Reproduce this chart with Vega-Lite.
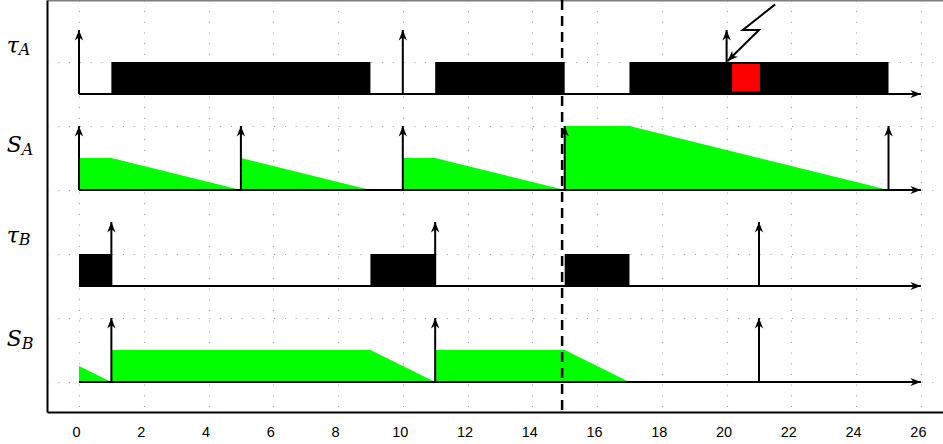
{
  "$schema": "https://vega.github.io/schema/vega-lite/v6.json",
  "width": 896,
  "height": 412,
  "autosize": {"type": "none"},
  "padding": {"left": 47, "top": 0, "right": 0, "bottom": 32},
  "background": "white",
  "config": {"view": {"stroke": null}},
  "datasets": {
    "jobs": [
      {"task": "tauA", "kind": "exec", "start": 1, "end": 9, "lo": 9, "hi": 10},
      {"task": "tauA", "kind": "exec", "start": 11, "end": 15, "lo": 9, "hi": 10},
      {"task": "tauA", "kind": "exec", "start": 17, "end": 25, "lo": 9, "hi": 10},
      {"task": "tauB", "kind": "exec", "start": 0, "end": 1, "lo": 3, "hi": 4},
      {"task": "tauB", "kind": "exec", "start": 9, "end": 11, "lo": 3, "hi": 4},
      {"task": "tauB", "kind": "exec", "start": 15, "end": 17, "lo": 3, "hi": 4},
      {"task": "tauA", "kind": "fault", "start": 20.17, "end": 21.03, "lo": 9.08, "hi": 9.94}
    ],
    "slack": [
      {"seg": "a1", "t": 0, "s": 7, "base": 6},
      {"seg": "a1", "t": 1, "s": 7, "base": 6},
      {"seg": "a1", "t": 5, "s": 6, "base": 6},
      {"seg": "a2", "t": 5, "s": 7, "base": 6},
      {"seg": "a2", "t": 9, "s": 6, "base": 6},
      {"seg": "a3", "t": 10, "s": 7, "base": 6},
      {"seg": "a3", "t": 11, "s": 7, "base": 6},
      {"seg": "a3", "t": 15, "s": 6, "base": 6},
      {"seg": "a4", "t": 15, "s": 8, "base": 6},
      {"seg": "a4", "t": 17, "s": 8, "base": 6},
      {"seg": "a4", "t": 25, "s": 6, "base": 6},
      {"seg": "b1", "t": 0, "s": 0.5, "base": 0},
      {"seg": "b1", "t": 1, "s": 0, "base": 0},
      {"seg": "b2", "t": 1, "s": 1, "base": 0},
      {"seg": "b2", "t": 9, "s": 1, "base": 0},
      {"seg": "b2", "t": 11, "s": 0, "base": 0},
      {"seg": "b3", "t": 11, "s": 1, "base": 0},
      {"seg": "b3", "t": 15, "s": 1, "base": 0},
      {"seg": "b3", "t": 17, "s": 0, "base": 0}
    ],
    "releases": [
      {"row": "tauA", "t": 0, "base": 9, "top": 11},
      {"row": "tauA", "t": 10, "base": 9, "top": 11},
      {"row": "tauA", "t": 20, "base": 9, "top": 11},
      {"row": "SA", "t": 0, "base": 6, "top": 8},
      {"row": "SA", "t": 5, "base": 6, "top": 8},
      {"row": "SA", "t": 10, "base": 6, "top": 8},
      {"row": "SA", "t": 15, "base": 6, "top": 8},
      {"row": "SA", "t": 25, "base": 6, "top": 8},
      {"row": "tauB", "t": 1, "base": 3, "top": 5},
      {"row": "tauB", "t": 11, "base": 3, "top": 5},
      {"row": "tauB", "t": 21, "base": 3, "top": 5},
      {"row": "SB", "t": 1, "base": 0, "top": 2},
      {"row": "SB", "t": 11, "base": 0, "top": 2},
      {"row": "SB", "t": 21, "base": 0, "top": 2}
    ],
    "timelines": [
      {"row": "tauA", "start": 0, "end": 26, "base": 9},
      {"row": "SA", "start": 0, "end": 26, "base": 6},
      {"row": "tauB", "start": 0, "end": 26, "base": 3},
      {"row": "SB", "start": 0, "end": 26, "base": 0}
    ],
    "bolt": [
      {"i": 0, "t": 21.5, "v": 11.8},
      {"i": 1, "t": 20.5, "v": 11.0},
      {"i": 2, "t": 21.0, "v": 11.0},
      {"i": 3, "t": 20.03, "v": 10.03}
    ],
    "labels": [
      {"main": "τ", "sub": "A", "v": 10.27},
      {"main": "S", "sub": "A", "v": 7.2},
      {"main": "τ", "sub": "B", "v": 4.34},
      {"main": "S", "sub": "B", "v": 1.13}
    ]
  },
  "layer": [
    {
      "layer": [
        {
          "data": {"name": "jobs"},
          "mark": {"type": "rect"},
          "encoding": {
            "x": {
              "field": "start", "type": "quantitative", "title": null,
              "scale": {"domain": [-0.988, 26.683], "nice": false, "zero": false},
              "axis": {
                "title": null,
                "values": [0,1,2,3,4,5,6,7,8,9,10,11,12,13,14,15,16,17,18,19,20,21,22,23,24,25,26],
                "labelExpr": "datum.value % 2 == 0 ? datum.label : ''",
                "ticks": false,
                "domainColor": "black", "domainWidth": 2,
                "labelFont": "Liberation Sans", "labelFontSize": 14.5, "labelColor": "black",
                "labelPadding": 13, "labelOffset": -3, "labelOverlap": false, "labelFlush": false,
                "grid": true, "gridColor": "#9a9a9a", "gridDash": [1, 9.67], "gridWidth": 1, "gridOpacity": 1
              }
            },
            "x2": {"field": "end"},
            "y": {
              "field": "lo", "type": "quantitative", "title": null,
              "scale": {"domain": [-0.9375, 11.9375], "nice": false, "zero": false},
              "axis": {
                "title": null,
                "values": [0,1,2,3,4,5,6,7,8,9,10,11],
                "labels": false, "ticks": false,
                "domainColor": "black", "domainWidth": 2,
                "grid": true, "gridColor": "#9a9a9a", "gridDash": [1, 9.79], "gridWidth": 1, "gridOpacity": 1
              }
            },
            "y2": {"field": "hi"},
            "color": {
              "field": "kind", "type": "nominal", "legend": null,
              "scale": {"domain": ["exec", "fault"], "range": ["#000000", "#ff0000"]}
            }
          }
        },
        {
          "data": {"name": "slack"},
          "mark": {"type": "area", "color": "#00ff00", "interpolate": "linear"},
          "encoding": {
            "x": {"field": "t", "type": "quantitative", "title": null},
            "y": {"field": "s", "type": "quantitative", "title": null, "stack": null},
            "y2": {"field": "base"},
            "detail": {"field": "seg", "type": "nominal"}
          }
        },
        {
          "data": {"name": "timelines"},
          "mark": {"type": "rule", "color": "black", "strokeWidth": 2},
          "encoding": {
            "x": {"field": "start", "type": "quantitative", "title": null},
            "x2": {"field": "end"},
            "y": {"field": "base", "type": "quantitative", "title": null}
          }
        },
        {
          "data": {"name": "timelines"},
          "mark": {"type": "point", "shape": "M0,0 L-0.75,2 L0,1.4 L0.75,2 Z", "filled": true, "color": "black", "opacity": 1, "size": 110, "angle": 90, "strokeWidth": 0},
          "encoding": {
            "x": {"field": "end", "type": "quantitative", "title": null},
            "y": {"field": "base", "type": "quantitative", "title": null}
          }
        },
        {
          "data": {"name": "releases"},
          "mark": {"type": "rule", "color": "black", "strokeWidth": 2},
          "encoding": {
            "x": {"field": "t", "type": "quantitative", "title": null},
            "y": {"field": "base", "type": "quantitative", "title": null},
            "y2": {"field": "top"}
          }
        },
        {
          "data": {"name": "releases"},
          "mark": {"type": "point", "shape": "M0,0 L-0.8,2 L0,1.4 L0.8,2 Z", "filled": true, "color": "black", "opacity": 1, "size": 110, "angle": 0, "strokeWidth": 0},
          "encoding": {
            "x": {"field": "t", "type": "quantitative", "title": null},
            "y": {"field": "top", "type": "quantitative", "title": null}
          }
        },
        {
          "data": {"name": "bolt"},
          "mark": {"type": "line", "color": "black", "strokeWidth": 2},
          "encoding": {
            "x": {"field": "t", "type": "quantitative", "title": null},
            "y": {"field": "v", "type": "quantitative", "title": null},
            "order": {"field": "i", "type": "quantitative"}
          }
        },
        {
          "data": {"name": "bolt"},
          "transform": [{"filter": "datum.i == 3"}],
          "mark": {"type": "point", "shape": "M0,0 L-0.8,2 L0,1.4 L0.8,2 Z", "filled": true, "color": "black", "opacity": 1, "size": 110, "angle": 226, "strokeWidth": 0},
          "encoding": {
            "x": {"field": "t", "type": "quantitative", "title": null},
            "y": {"field": "v", "type": "quantitative", "title": null}
          }
        },
        {
          "data": {"name": "labels"},
          "mark": {"type": "text", "font": "DejaVu Serif", "fontStyle": "italic", "fontSize": 22, "align": "left", "baseline": "alphabetic", "color": "black"},
          "encoding": {
            "x": {"datum": -2.23, "type": "quantitative"},
            "y": {"field": "v", "type": "quantitative", "title": null},
            "text": {"field": "main"}
          }
        },
        {
          "data": {"name": "labels"},
          "transform": [{"filter": "datum.main == 'τ'"}],
          "mark": {"type": "text", "font": "DejaVu Serif", "fontStyle": "italic", "fontSize": 16, "align": "left", "baseline": "alphabetic", "color": "black", "dx": 12, "dy": 2},
          "encoding": {
            "x": {"datum": -2.23, "type": "quantitative"},
            "y": {"field": "v", "type": "quantitative", "title": null},
            "text": {"field": "sub"}
          }
        },
        {
          "data": {"name": "labels"},
          "transform": [{"filter": "datum.main == 'S'"}],
          "mark": {"type": "text", "font": "DejaVu Serif", "fontStyle": "italic", "fontSize": 16, "align": "left", "baseline": "alphabetic", "color": "black", "dx": 15, "dy": 3},
          "encoding": {
            "x": {"datum": -2.23, "type": "quantitative"},
            "y": {"field": "v", "type": "quantitative", "title": null},
            "text": {"field": "sub"}
          }
        }
      ]
    },
    {
      "data": {"values": [{"t": 14.92}]},
      "mark": {"type": "rule", "color": "black", "strokeWidth": 2.5, "strokeDash": [10, 6]},
      "encoding": {
        "x": {
          "field": "t", "type": "quantitative", "title": null,
          "axis": {"orient": "top", "title": null, "labels": false, "ticks": false, "grid": false, "domainColor": "#808080", "domainWidth": 2}
        }
      }
    }
  ],
  "resolve": {"axis": {"x": "independent"}}
}
